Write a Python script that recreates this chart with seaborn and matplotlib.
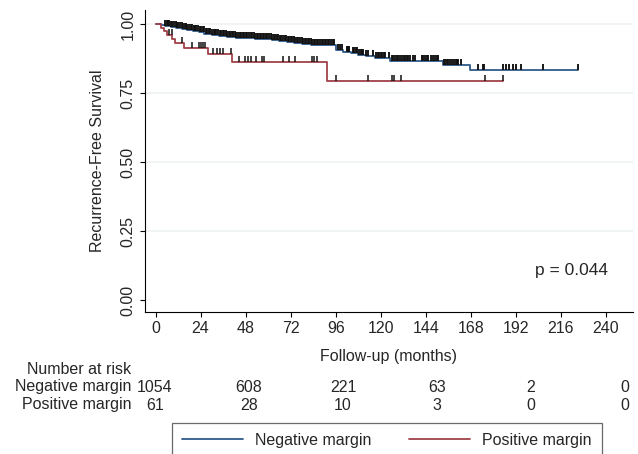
import numpy as np
import pandas as pd
import matplotlib
matplotlib.use("Agg")
import matplotlib.pyplot as plt
from matplotlib.path import Path
import seaborn as sns

# ---------------- data ----------------
neg_event_t = [3, 5, 8, 11, 14, 17, 20, 23, 26, 30, 34, 38, 43, 48, 53, 58, 62, 66, 70, 74, 78,
               83, 96, 100, 104, 108, 112, 117, 125, 153, 167.6]
neg_surv = [0.998, 0.995, 0.991, 0.987, 0.983, 0.979, 0.975, 0.971, 0.967, 0.962, 0.958, 0.955,
            0.952, 0.950, 0.948, 0.946, 0.943, 0.940, 0.937, 0.934, 0.930, 0.925, 0.907, 0.902,
            0.897, 0.891, 0.886, 0.880, 0.869, 0.853, 0.834]
neg_end = 225.0
neg_censor = [5.2, 5.9, 6.7, 7.4, 8.3, 9.0, 9.8, 10.7, 11.5, 12.2, 13.1, 13.9, 14.6, 15.5, 16.3,
              17.0, 17.9, 18.7, 19.4, 20.3, 21.1, 21.8, 22.7, 23.5, 24.3, 25.1, 25.9, 26.8, 27.6,
              28.3, 29.2, 30.0, 30.9, 31.7, 32.4, 33.3, 34.1, 34.9, 35.8, 36.6, 37.3, 38.2, 39.0,
              39.9, 40.7, 41.5, 42.3, 43.1, 44.0, 44.8, 45.6, 46.4, 47.2, 48.1, 48.9, 49.7, 50.6,
              51.4, 52.2, 53.0, 53.8, 54.7, 55.5, 56.3, 57.1, 58.0, 58.8, 59.6, 60.4, 61.3, 62.1,
              62.9, 63.7, 64.6, 65.4, 66.2, 67.0, 67.9, 68.7, 69.5, 70.3, 71.2, 72.0, 72.8, 73.6,
              74.5, 75.3, 76.1, 76.9, 77.8, 78.6, 79.4, 80.2, 81.1, 81.9, 82.7, 83.5, 84.4, 85.2,
              86.0, 86.8, 87.7, 88.5, 89.3, 90.1, 91.0, 91.8, 92.6, 93.4, 94.3, 95.1,
              97.4, 98.3, 99.2, 101.9, 102.6, 103.3, 105.0, 105.9, 106.8, 107.5, 108.4, 109.2,
              110.0, 110.7, 112.1, 113.4, 116.0, 117.5, 118.3, 119.2, 120.0, 120.8, 121.6, 122.3,
              124.6, 125.8, 126.7, 127.5, 128.4, 129.3, 130.3, 131.2, 132.1, 133.0, 133.8, 134.7,
              135.6, 137.0, 138.3, 141.8, 142.7, 143.6, 144.5, 145.4, 146.6, 148.0, 149.0, 149.8,
              150.7, 153.6, 154.4, 155.1, 156.0, 156.9, 157.8, 159.0, 159.8, 160.6, 161.3, 162.5,
              172.0, 174.3, 175.2, 185.3, 186.6, 188.4, 190.2, 191.8, 194.5, 206.6, 225.0]

pos_event_t = [2.8, 4.3, 6.0, 8.8, 10.2, 15.3, 28.1, 40.6, 91.5]
pos_surv = [0.988, 0.975, 0.962, 0.948, 0.932, 0.914, 0.892, 0.865, 0.795]
pos_end = 185.3
pos_censor = [7.4, 8.6, 14.3, 19.3, 23.2, 24.2, 25.3, 26.4, 30.8, 32.6, 34.4, 36.1, 40.0, 44.5,
              47.7, 49.1, 50.9, 53.4, 56.6, 58.0, 68.1, 71.1, 74.3, 83.2, 84.4, 85.9, 96.2,
              113.0, 125.8, 127.1, 130.6, 175.5, 185.3]

risk_times = [0, 48, 96, 144, 192, 240]
neg_risk = [1054, 608, 221, 63, 2, 0]
pos_risk = [61, 28, 10, 3, 0, 0]

group_labels = ["Negative margin", "Positive margin"]
x_ticks = list(range(0, 241, 24))
y_ticks = [0.0, 0.25, 0.50, 0.75, 1.00]
p_text = "p = 0.044"

# ---------------- style ----------------
sns.set_style("white")
plt.rcParams['font.family'] = ['Liberation Sans', 'DejaVu Sans']
plt.rcParams['font.size'] = 11.5

W, H = 638, 454
fig = plt.figure(figsize=(W / 100, H / 100), dpi=100)

def fx(px):
    return px / W

def fy(py):
    return 1 - py / H

L, R, T, B = 144.5, 632.7, 10.0, 311.7
ax = fig.add_axes([fx(L), fy(B), fx(R - L), (B - T) / H])

BLUE = "#2e5b89"
RED = "#a0414a"

def km_frame(times, surv, end):
    t = [0.0] + list(times) + [end]
    s = [1.0] + list(surv) + [surv[-1]]
    return pd.DataFrame({"t": t, "s": s})

def level_at(times, surv, ct):
    idx = np.searchsorted(np.asarray(times), np.asarray(ct), side="right")
    lv = np.concatenate([[1.0], surv])
    return lv[idx]

neg_df = km_frame(neg_event_t, neg_surv, neg_end)
pos_df = km_frame(pos_event_t, pos_surv, pos_end)

sns.lineplot(data=neg_df, x="t", y="s", drawstyle="steps-post", estimator=None, sort=False,
             color=BLUE, lw=1.3, ax=ax, label=group_labels[0])
sns.lineplot(data=pos_df, x="t", y="s", drawstyle="steps-post", estimator=None, sort=False,
             color=RED, lw=1.3, ax=ax, label=group_labels[1])

tick_marker = Path([(0, 0), (0, 1)], [Path.MOVETO, Path.LINETO])
sns.scatterplot(x=neg_censor, y=level_at(neg_event_t, neg_surv, neg_censor), marker=tick_marker,
                s=64, linewidth=1.35, color="#111111", edgecolor="#111111", ax=ax, zorder=3)
sns.scatterplot(x=pos_censor, y=level_at(pos_event_t, pos_surv, pos_censor), marker=tick_marker,
                s=64, linewidth=1.1, color="#111111", edgecolor="#111111", ax=ax, zorder=3)

handles, labels = ax.get_legend_handles_labels()
if ax.get_legend() is not None:
    ax.get_legend().remove()

ax.set_xlim(-5.9, 254.2)
ax.set_ylim(-0.0406, 1.0525)
ax.set_xticks(x_ticks)
ax.set_xticklabels([str(v) for v in x_ticks])
ax.set_yticks(y_ticks)
ax.set_yticklabels([f"{v:.2f}" for v in y_ticks], rotation=90, va="center")
ax.tick_params(axis="both", direction="out", length=3.6, width=0.8, color="black",
               labelsize=11.5, pad=3)
ax.tick_params(axis="x", bottom=True)
ax.tick_params(axis="y", left=True)

ax.grid(axis="y", color="#edf2f4", lw=1.2)
ax.grid(axis="x", visible=False)
ax.yaxis.get_gridlines()[0].set_visible(False)
ax.set_axisbelow(True)

for sp in ["top", "right"]:
    ax.spines[sp].set_visible(False)
for sp in ["left", "bottom"]:
    ax.spines[sp].set_color("black")
    ax.spines[sp].set_linewidth(0.8)

ax.set_xlabel("Follow-up (months)", fontsize=11.5)
ax.set_ylabel("Recurrence-Free Survival", fontsize=11.5)
ax.xaxis.label.set_va("center")
ax.yaxis.label.set_va("center")
ax.xaxis.set_label_coords(0.5, (B - 356) / (B - T))
ax.yaxis.set_label_coords((97 - L) / (R - L), 0.5)

ax.text((571.5 - L) / (R - L), (B - 270.7) / (B - T), p_text, transform=ax.transAxes,
        ha="center", va="center", fontsize=12.5)

# ---------------- number at risk table ----------------
tab = fig.add_axes([fx(L), 0, fx(R - L), 1], frameon=False)
tab.set_xlim(-5.36, 243.9)
tab.set_ylim(H, 0)
tab.set_xticks([])
tab.set_yticks([])
fig.text(fx(131.5), fy(369), "Number at risk", ha="right", va="center", fontsize=11.5)
fig.text(fx(131.5), fy(387), group_labels[0], ha="right", va="center", fontsize=11.5)
fig.text(fx(131.5), fy(405), group_labels[1], ha="right", va="center", fontsize=11.5)
for t, n in zip(risk_times, neg_risk):
    tab.text(t, 387, str(n), ha="center", va="center", fontsize=11.5)
for t, n in zip(risk_times, pos_risk):
    tab.text(t, 405, str(n), ha="center", va="center", fontsize=11.5)

# ---------------- legend ----------------
leg = fig.legend(handles, labels, ncol=2, loc="upper left",
                 bbox_to_anchor=(fx(172), fy(423)), frameon=True, fancybox=False,
                 edgecolor="#444444", handlelength=3.85, handletextpad=0.75,
                 columnspacing=2.35, borderaxespad=0, borderpad=0.6, fontsize=11.5)
leg.get_frame().set_linewidth(0.9)
for h in leg.legend_handles:
    h.set_linewidth(1.3)

fig.savefig("out.png", dpi=100)
